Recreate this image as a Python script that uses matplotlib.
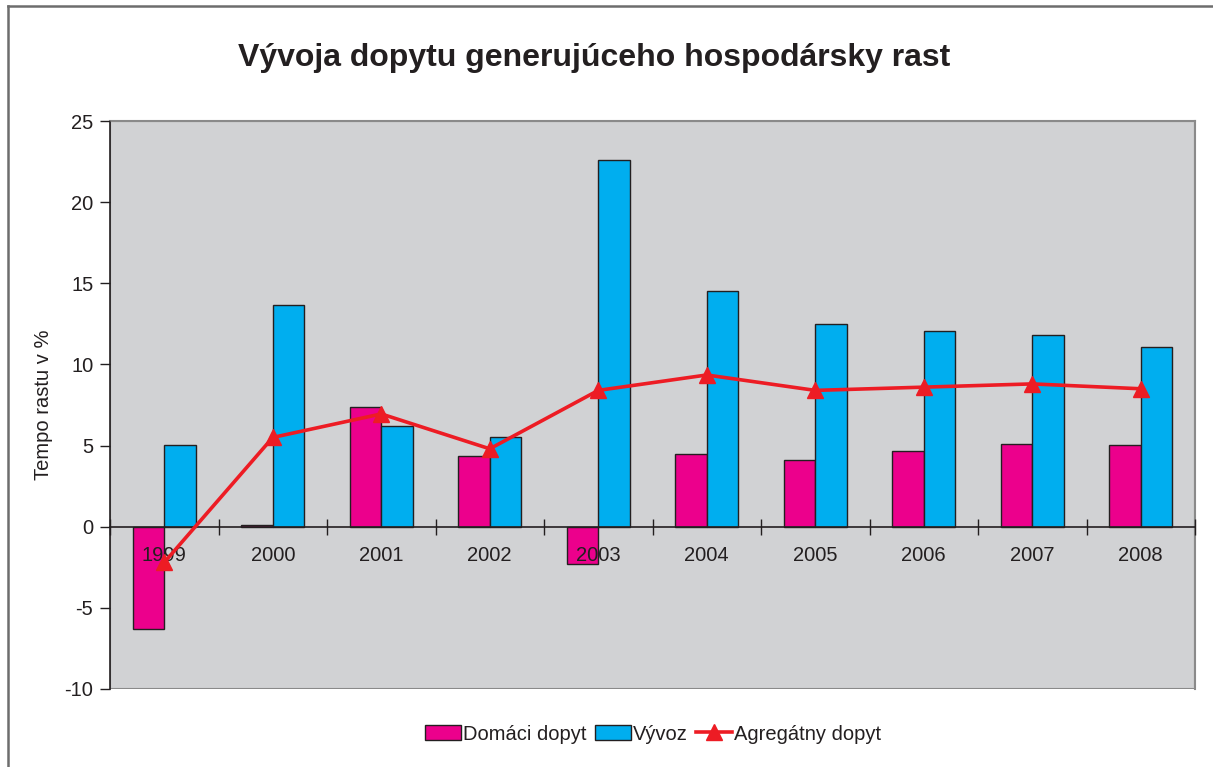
import matplotlib
matplotlib.use("Agg")
import matplotlib.pyplot as plt
from matplotlib.patches import Rectangle, Patch
from matplotlib.lines import Line2D
import numpy as np

plt.rcParams['font.family'] = ['Liberation Sans', 'DejaVu Sans']
plt.rcParams['axes.unicode_minus'] = False

years = ['1999', '2000', '2001', '2002', '2003', '2004', '2005', '2006', '2007', '2008']
domaci = [-6.3, 0.1, 7.4, 4.35, -2.3, 4.5, 4.1, 4.65, 5.1, 5.05]
vyvoz = [5.05, 13.65, 6.2, 5.5, 22.6, 14.55, 12.5, 12.05, 11.8, 11.1]
agregatny = [-2.2, 5.5, 6.95, 4.8, 8.4, 9.35, 8.4, 8.6, 8.8, 8.5]

c_dom = '#EC008C'
c_vyv = '#00AEEF'
c_agr = '#ED1C24'
bg = '#D1D2D4'
dark = '#231F20'

fig = plt.figure(figsize=(12.13, 7.67), dpi=100)
ax = fig.add_axes([110/1213, 1-689/767, (1195-110)/1213, (689-121)/767])
ax.set_facecolor(bg)
ax.set_axisbelow(False)

x = np.arange(len(years))
w = 0.29
ax.bar(x - w/2, domaci, w, color=c_dom, edgecolor=dark, linewidth=1.0, zorder=2)
ax.bar(x + w/2, vyvoz, w, color=c_vyv, edgecolor=dark, linewidth=1.0, zorder=2)
ax.plot(x, agregatny, color=c_agr, linewidth=2.6, marker='^', markersize=11, zorder=5, clip_on=False)

ax.set_xlim(-0.5, len(years) - 0.5)
ax.set_ylim(-10, 25)
ax.set_yticks(np.arange(-10, 26, 5))
ax.tick_params(axis='y', direction='out', length=7, width=1, color=dark, labelsize=14.5, pad=5, labelcolor=dark)

# x axis at zero
ax.spines['bottom'].set_position(('data', 0))
ax.spines['bottom'].set_color(dark)
ax.spines['bottom'].set_linewidth(1.2)
ax.spines['left'].set_color(dark)
ax.spines['left'].set_linewidth(1.2)
for s in ['top', 'right']:
    ax.spines[s].set_color('#8a8a8a')
    ax.spines[s].set_linewidth(1.5)
ax.add_patch(Rectangle((0, 0), 1, 1, transform=ax.transAxes, fill=False,
                       edgecolor='#8a8a8a', linewidth=1.5, zorder=1))

ax.set_xticks(np.arange(-0.5, len(years), 1.0))
ax.set_xticklabels([])
ax.tick_params(axis='x', which='major', direction='inout', length=12, width=1, color=dark)
ax.set_xticks(x, minor=True)
ax.set_xticklabels(years, minor=True)
ax.tick_params(axis='x', which='minor', length=0, labelsize=14.5, pad=14, labelcolor=dark)

ax.set_ylabel('Tempo rastu v %', fontsize=14.5, color=dark, labelpad=8)

fig.text(594/1213, 1-58/767, 'Vývoja dopytu generujúceho hospodársky rast',
         ha='center', va='center', fontsize=23, fontweight='bold', color=dark)

handles = [Patch(facecolor=c_dom, edgecolor=dark, linewidth=1.0),
           Patch(facecolor=c_vyv, edgecolor=dark, linewidth=1.0),
           Line2D([0], [0], color=c_agr, linewidth=2.6, marker='^', markersize=11)]
fig.legend(handles, ['Domáci dopyt', 'Vývoz', 'Agregátny dopyt'], loc='center',
           bbox_to_anchor=(653/1213, 1-734/767), ncol=3, frameon=False, fontsize=14.5,
           handlelength=1.8, handleheight=0.75, handletextpad=0.1, columnspacing=0.4,
           labelcolor=dark)

# outer frame
fig.add_artist(Line2D([8/1213, 8/1213], [0, 1-6/767], transform=fig.transFigure,
                      color='#6d6d6d', linewidth=1.8))
fig.add_artist(Line2D([8/1213, 1], [1-6/767, 1-6/767], transform=fig.transFigure,
                      color='#6d6d6d', linewidth=1.8))

fig.savefig('out.png', dpi=100, facecolor='white')
